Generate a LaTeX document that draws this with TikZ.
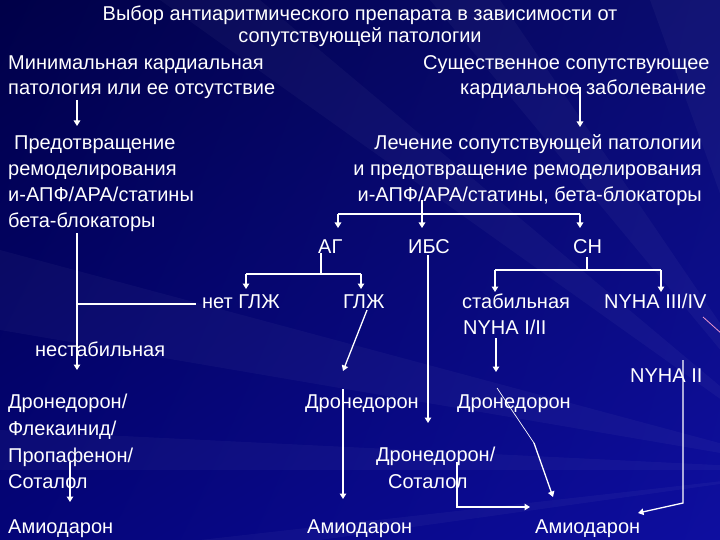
\documentclass[tikz,border=0pt]{standalone}
\usepackage{fontspec}
\setmainfont{Liberation Sans}
\usetikzlibrary{arrows.meta,shadings}
\definecolor{bgUL}{RGB}{0,0,72}
\definecolor{bgUR}{RGB}{10,12,112}
\definecolor{bgLL}{RGB}{4,4,120}
\definecolor{bgLR}{RGB}{14,14,160}
\definecolor{pinkline}{RGB}{235,150,205}
\tikzset{
  txt/.style={inner sep=0pt, text=white, font=\fontsize{20}{24}\selectfont},
  conn/.style={draw=white, line width=1.3pt},
  arr/.style={conn, -{Triangle[length=5.5pt,width=6.5pt]}},
  thinconn/.style={draw=white, line width=0.7pt},
  streak/.style={fill=white, fill opacity=0.035}
}
\begin{document}
\begin{tikzpicture}[x=1pt,y=-1pt]
\useasboundingbox (0,0) rectangle (720,540);
\clip (0,0) rectangle (720,540);
\shade[upper left=bgUL, upper right=bgUR, lower left=bgLL, lower right=bgLR] (0,0) rectangle (720,540);
% light streaks radiating from the lower right
\fill[streak] (820,470) -- (160,0) -- (260,0) -- cycle;
\fill[streak] (820,470) -- (430,0) -- (500,0) -- cycle;
\fill[streak] (820,470) -- (0,250) -- (0,330) -- cycle;
\fill[streak] (820,470) -- (0,430) -- (0,470) -- cycle;
\fill[streak] (820,470) -- (650,0) -- (720,0) -- cycle;
\fill[streak] (820,470) -- (200,540) -- (320,540) -- cycle;
\draw[pinkline, line width=0.8pt] (703,317) -- (722,334);

% title
\node[txt, anchor=base] (t1) at (360,20.5) {Выбор антиаритмического препарата в зависимости от};
\node[txt, anchor=base] (t2) at (360,42.5) {сопутствующей патологии};

% first level
\node[txt, anchor=base west] (min1) at (8,70) {Минимальная кардиальная};
\node[txt, anchor=base west] (min2) at (8,95) {патология или ее отсутствие};
\node[txt, anchor=base west] (sus1) at (423,70) {Существенное сопутствующее};
\node[txt, anchor=base west] (sus2) at (460,95) {кардиальное заболевание};

% second level
\node[txt, anchor=base west] (pr1) at (14,150) {Предотвращение};
\node[txt, anchor=base west] (pr2) at (8,176) {ремоделирования};
\node[txt, anchor=base west] (pr3) at (8,202) {и-АПФ/АРА/статины};
\node[txt, anchor=base west] (pr4) at (8,228) {бета-блокаторы};
\node[txt, anchor=base east] (le1) at (702,150) {Лечение сопутствующей патологии};
\node[txt, anchor=base east] (le2) at (702,176) {и предотвращение ремоделирования};
\node[txt, anchor=base east] (le3) at (702,202) {и-АПФ/АРА/статины, бета-блокаторы};

% diseases
\node[txt, anchor=base west] (ag) at (318,254) {АГ};
\node[txt, anchor=base west] (ibs) at (408,254) {ИБС};
\node[txt, anchor=base west] (sn) at (573,254) {СН};

\node[txt, anchor=base west] (netglzh) at (202,308) {нет ГЛЖ};
\node[txt, anchor=base west] (glzh) at (343,308) {ГЛЖ};
\node[txt, anchor=base west] (stab) at (462,308) {стабильная};
\node[txt, anchor=base west] (nyha12) at (463,334) {NYHA I/II};
\node[txt, anchor=base west] (nyha34) at (604,308) {NYHA III/IV};
\node[txt, anchor=base west] (nestab) at (35,356) {нестабильная};
\node[txt, anchor=base west] (nyha2) at (630,382) {NYHA II};

% drugs
\node[txt, anchor=base west] (d1) at (8,408) {Дронедорон/};
\node[txt, anchor=base west] (d2) at (8,435) {Флекаинид/};
\node[txt, anchor=base west] (d3) at (8,462) {Пропафенон/};
\node[txt, anchor=base west] (d4) at (8,488) {Соталол};
\node[txt, anchor=base west] (dm) at (305,408) {Дронедорон};
\node[txt, anchor=base west] (dr) at (457,408) {Дронедорон};
\node[txt, anchor=base west] (ds1) at (376,461) {Дронедорон/};
\node[txt, anchor=base west] (ds2) at (388,488) {Соталол};
\node[txt, anchor=base west] (am1) at (8,533) {Амиодарон};
\node[txt, anchor=base west] (am2) at (307,533) {Амиодарон};
\node[txt, anchor=base west] (am3) at (535,533) {Амиодарон};

% connector end points
\coordinate (c1a) at (77,100);   \coordinate (c1b) at (77,126);
\coordinate (c2a) at (580,87);   \coordinate (c2b) at (580,127);
\coordinate (c3a) at (77,233);   \coordinate (c3b) at (77,370);
\coordinate (c3m) at (77,304);   \coordinate (c3n) at (196,304);
\coordinate (hL) at (338,214);   \coordinate (hR) at (580,214);
\coordinate (hI) at (422,200);
\coordinate (agT) at (338,228);  \coordinate (ibT) at (422,228);  \coordinate (snT) at (580,228);
\coordinate (ag1) at (321,253);  \coordinate (ag2) at (321,274);
\coordinate (agL) at (246,274);  \coordinate (agR) at (361,274);
\coordinate (agLt) at (246,289); \coordinate (agRt) at (361,289);
\coordinate (gl1) at (367,310);  \coordinate (gl2) at (343,371);
\coordinate (ib1) at (428,255);  \coordinate (ib2) at (428,423);
\coordinate (sn1) at (587,257);  \coordinate (sn2) at (587,270);
\coordinate (snL) at (495,270);  \coordinate (snR) at (661,270);
\coordinate (snLt) at (495,292); \coordinate (snRt) at (661,292);
\coordinate (ny1) at (496,338);  \coordinate (ny2) at (496,372);
\coordinate (dg1) at (497,388);  \coordinate (dg2) at (534,443);  \coordinate (dg3) at (553,497);
\coordinate (n2a) at (683,360);  \coordinate (n2b) at (683,503);  \coordinate (n2c) at (638,513);
\coordinate (lf1) at (70,462);   \coordinate (lf2) at (70,502);
\coordinate (md1) at (343,389);  \coordinate (md2) at (343,499);
\coordinate (so1) at (457,462);  \coordinate (so2) at (457,507);  \coordinate (so3) at (530,507);

% connectors
\draw[arr] (c1a) -- (c1b);
\draw[arr] (c2a) -- (c2b);
\draw[arr] (c3a) -- (c3b);
\draw[conn] (c3m) -- (c3n);
\draw[conn] (hL) -- (hR);
\draw[arr] (hL) -- (agT);
\draw[arr] (hI) -- (ibT);
\draw[arr] (hR) -- (snT);
\draw[conn] (ag1) -- (ag2);
\draw[conn] (agL) -- (agR);
\draw[arr] (agL) -- (agLt);
\draw[arr] (agR) -- (agRt);
\draw[arr] (gl1) -- (gl2);
\draw[arr] (ib1) -- (ib2);
\draw[conn] (sn1) -- (sn2);
\draw[conn] (snL) -- (snR);
\draw[arr] (snL) -- (snLt);
\draw[arr] (snR) -- (snRt);
\draw[arr] (ny1) -- (ny2);
\draw[thinconn] (dg1) -- (dg2);
\draw[arr] (dg2) -- (dg3);
\draw[arr] (n2a) -- (n2b) -- (n2c);
\draw[arr] (lf1) -- (lf2);
\draw[arr] (md1) -- (md2);
\draw[arr] (so1) -- (so2) -- (so3);
\end{tikzpicture}
\end{document}
